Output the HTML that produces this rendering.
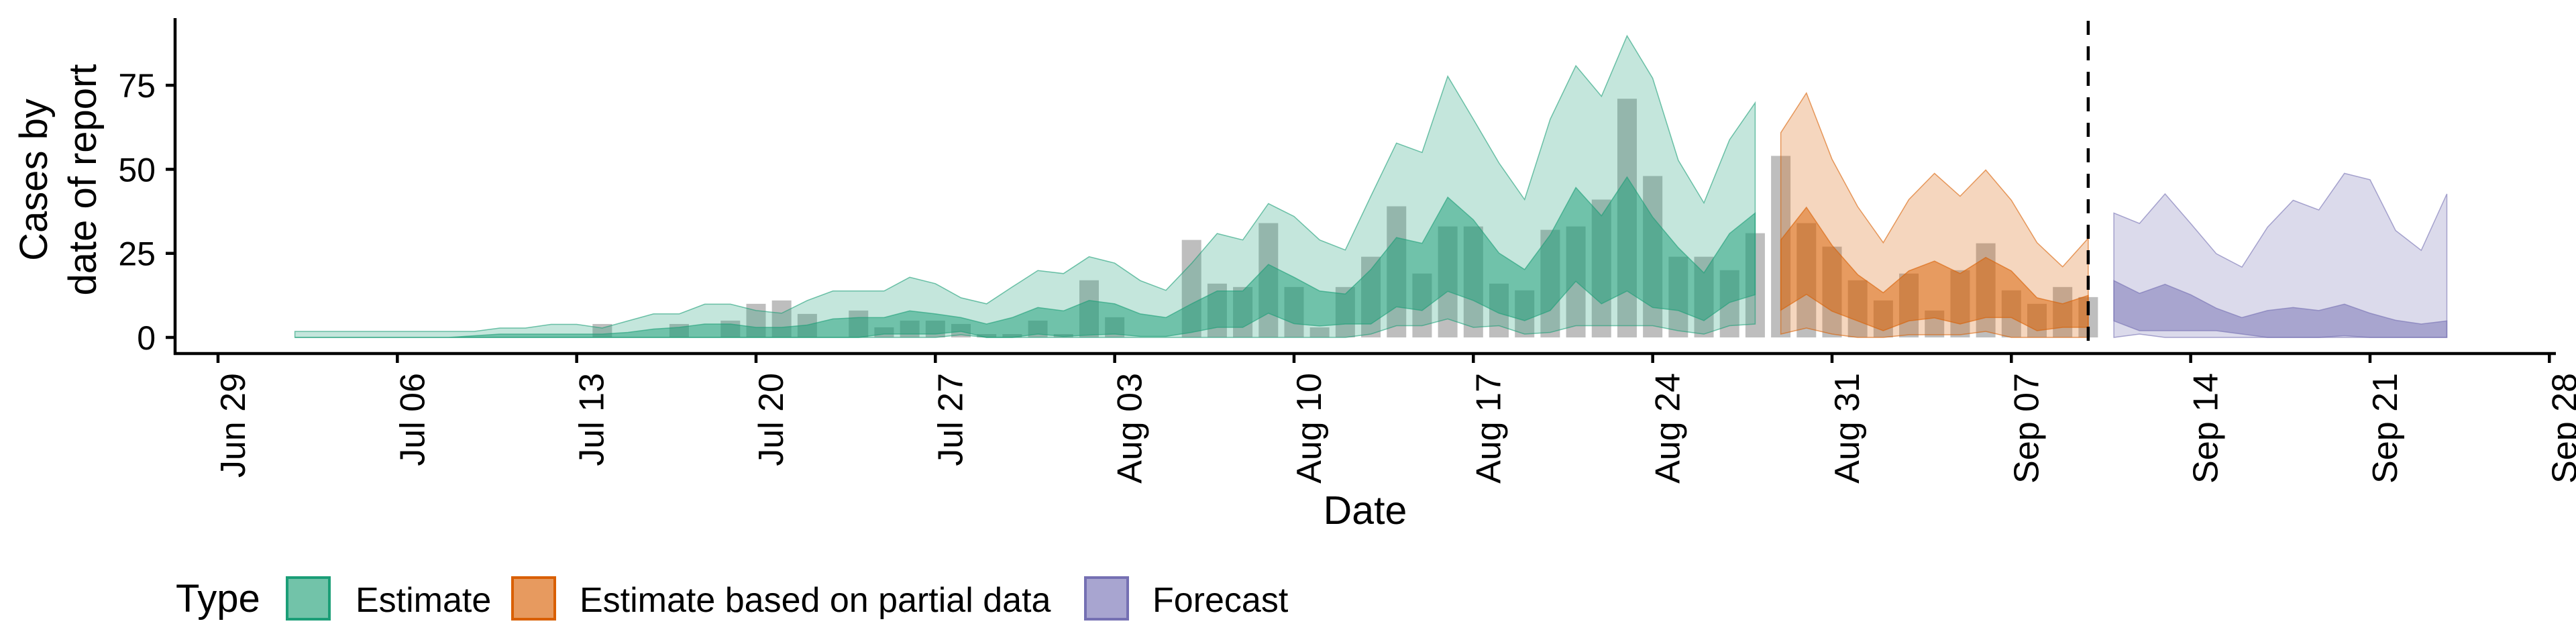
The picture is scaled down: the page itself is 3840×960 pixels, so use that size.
<!DOCTYPE html>
<html><head><meta charset="utf-8"><style>
html,body{margin:0;padding:0;background:#fff;}
svg{display:block;font-family:"Liberation Sans",Arial,sans-serif;}
</style></head><body>
<svg id="chart" width="3840" height="960" viewBox="0 0 3840 960" xmlns="http://www.w3.org/2000/svg">
<g id="bars"></g>
<g id="ribbons"></g>
<g id="axes"></g>
<text transform="translate(70,268) rotate(-90)" text-anchor="middle" font-size="58">Cases by</text>
<text transform="translate(143,268) rotate(-90)" text-anchor="middle" font-size="58">date of report</text>
<text x="2035" y="781" text-anchor="middle" font-size="59">Date</text>
<g>
  <text x="262" y="912" font-size="58">Type</text>
  <rect x="428" y="861" width="63" height="62" fill="#72c3a9" stroke="#1b9e77" stroke-width="4"/>
  <text x="530" y="912" font-size="52">Estimate</text>
  <rect x="764" y="861" width="63" height="62" fill="#e79a5f" stroke="#d95f02" stroke-width="4"/>
  <text x="864" y="912" font-size="52">Estimate based on partial data</text>
  <rect x="1618" y="861" width="63" height="62" fill="#a8a5d0" stroke="#7570b3" stroke-width="4"/>
  <text x="1718" y="912" font-size="52">Forecast</text>
</g>
</svg>
<script>
// ---- data (day index from Jun 29) ----
const estStart = 3;
const estUpper90 = [1.8,1.8,1.8,1.8,1.8,1.8,1.8,1.8,2.8,2.8,3.9,3.9,2.8,4.9,7,7,9.9,9.9,8,7.2,11,13.8,13.8,13.8,17.9,16,11.8,10,15,19.9,19,24,22.1,16.9,14,22,30.9,29,39.8,36,29,26,42,57.8,55,77.7,64.9,51.9,41,64.9,80.8,71.7,89.7,77.1,52.7,40,58.8,69.8];
const estUpper50 = [0,0,0,0,0,0,0,0.5,1,1,1,1,1,1.5,2.5,3,4,4,3,3,3.7,5.5,5.9,5.9,7.9,7,5.9,4,5.9,8.9,7.9,11,10,7,5.9,10,13.8,13.8,21.7,17.9,13.8,12.9,20.2,29.7,28,41.7,35,25.1,20.2,30.5,44.6,36.2,47.7,35.8,26.7,19.2,30.9,37];
const estLower50 = [0,0,0,0,0,0,0,0,0,0,0,0,0,0,0,0,0,0,0,0,0,0,0,1,1,1,1.8,0,0,1,0.3,0.7,1,0.3,0.3,1.5,3,3,7.2,4.1,3.4,4,4,9.1,8,13.7,11,7.2,5,8,16.7,10,13.8,8.9,8,5,10.4,12.7];
const estLower90 = [0,0,0,0,0,0,0,0,0,0,0,0,0,0,0,0,0,0,0,0,0,0,0,0,0,0,0.8,0,0,0,0,0,0,0,0,0,0,0,0,0,0,0,1,3.5,3.5,5.5,3,3.5,1,1.5,3.5,3.5,3.5,3.5,2,1,3.5,4];
const partStart = 61;
const partUpper90 = [60.9,72.7,53,38.9,28.2,41,48.8,42,49.8,40.8,28.2,21,29.5];
const partUpper50 = [29,38.7,27.4,18.7,13.3,19.8,22.7,19,23.8,19.8,11.8,10,12.5];
const partLower50 = [8.1,12.8,7.8,4.9,2,4.9,5.8,4,5.9,5.9,2,3,3];
const partLower90 = [1,2.8,1,0,0,0.8,0.8,0.8,1.8,0,0,0,0];
const fcStart = 74;
const fcUpper90 = [37,33.9,42.7,33.9,24.9,20.9,32.8,40.8,37.9,48.8,46.9,31.8,25.9,42.7];
const fcUpper50 = [16.9,13.1,15.8,12.7,8.7,5.9,8,8.9,8,9.9,7.2,5.1,4,4.9];
const fcLower50 = [4.9,2,2,2,2,1,0,0,0,0.5,0,0,0,0];
const fcLower90 = [0,1,0,0,0,0,0,0,0,0,0,0,0,0];
const barStart = 14;
const barValues = [0,4,0,0,4,0,5,10,11,7,0,8,3,5,5,4,1,1,5,1,17,6,0,0,29,16,15,34,15,3,15,24,39,19,33,33,16,14,32,33,41,71,48,24,24,20,31,54,34,27,17,11,19,8,20,28,14,10,15,12];
const yTicks = [0,25,50,75];
const xTickLabels = ["Jun 29","Jul 06","Jul 13","Jul 20","Jul 27","Aug 03","Aug 10","Aug 17","Aug 24","Aug 31","Sep 07","Sep 14","Sep 21","Sep 28"];
const forecastDay = 73;

// ---- scales ----
const X0 = 325, DAY = 38.19, Y0 = 503, UNIT = 5.012;
function xs(d){ return X0 + d*DAY; }
function ys(v){ return Y0 - v*UNIT; }
const NS = "http://www.w3.org/2000/svg";
function mk(tag, attrs, parent){ const e = document.createElementNS(NS, tag); for (const k in attrs) e.setAttribute(k, attrs[k]); parent.appendChild(e); return e; }

const barsG = document.getElementById('bars');
barValues.forEach((v,i)=>{
  if (v <= 0) return;
  const d = barStart + i;
  const r = mk('rect', {x: xs(d)-14.5, y: ys(v), width: 29, height: v*UNIT, fill: '#bebebe'}, barsG);
  
  
});

const ribG = document.getElementById('ribbons');
function band(start, upper, lower, color, op, name){
  const pts = [];
  upper.forEach((v,i)=>pts.push(xs(start+i).toFixed(1)+','+ys(v).toFixed(1)));
  for (let i=lower.length-1;i>=0;i--) pts.push(xs(start+i).toFixed(1)+','+ys(lower[i]).toFixed(1));
  const p = mk('polygon', {points: pts.join(' '), fill: color, 'fill-opacity': op, stroke: color, 'stroke-opacity': 0.6, 'stroke-width': 1.5}, ribG);
  
  
}
band(estStart, estUpper90, estLower90, '#1b9e77', 0.26, 'estimate-90-band');
band(estStart, estUpper50, estLower50, '#1b9e77', 0.5, 'estimate-50-band');
band(partStart, partUpper90, partLower90, '#d95f02', 0.26, 'partial-90-band');
band(partStart, partUpper50, partLower50, '#d95f02', 0.5, 'partial-50-band');
band(fcStart, fcUpper90, fcLower90, '#7570b3', 0.26, 'forecast-90-band');
band(fcStart, fcUpper50, fcLower50, '#7570b3', 0.5, 'forecast-50-band');

const ax = document.getElementById('axes');
const dash = mk('line', {x1: xs(forecastDay), x2: xs(forecastDay), y1: 31, y2: 527, stroke: '#000', 'stroke-width': 4.5, 'stroke-dasharray': '21 17'}, ax);


const yl = mk('line', {x1: 261, x2: 261, y1: 27, y2: 529, stroke: '#000', 'stroke-width': 4.5}, ax);


const xl = mk('line', {x1: 259, x2: 3810, y1: 527, y2: 527, stroke: '#000', 'stroke-width': 4.5}, ax);


yTicks.forEach(v=>{
  const t = mk('line', {x1: 247, x2: 261, y1: ys(v), y2: ys(v), stroke: '#000', 'stroke-width': 4.5}, ax);
  
  
  const l = mk('text', {x: 232, y: ys(v)+18, 'text-anchor': 'end', 'font-size': 50, fill: '#000'}, ax);
  l.textContent = String(v);
  
  
});
xTickLabels.forEach((lab,i)=>{
  const d = i*7;
  const t = mk('line', {x1: xs(d), x2: xs(d), y1: 527, y2: 541, stroke: '#000', 'stroke-width': 4.5}, ax);
  
  
  const l = mk('text', {transform: 'translate('+(xs(d)+40).toFixed(1)+',556) rotate(-90)', 'text-anchor': 'end', 'font-size': 52, fill: '#000'}, ax);
  l.textContent = lab;
  
  
});
</script>
</body></html>
